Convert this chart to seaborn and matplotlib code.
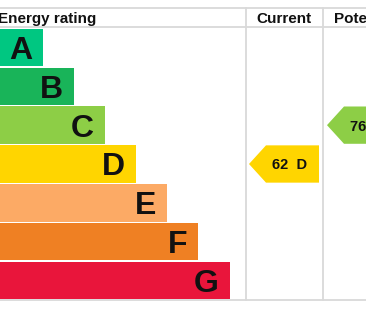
import numpy as np
import pandas as pd
import matplotlib
matplotlib.use("Agg")
import matplotlib.pyplot as plt
import seaborn as sns

# ---- data ----
bands = ["A", "B", "C", "D", "E", "F", "G"]
bar_lengths = [43, 74, 105, 136, 167, 198, 230]
band_colors = ["#00c781", "#19b459", "#8dce46", "#ffd500", "#fcaa65", "#ef8023", "#e9153b"]
header_labels = ["Energy rating", "Current", "Potential"]
current_score, current_band = 62, "D"
potential_score, potential_band = 76, "C"

sns.set_theme(style="white")
plt.rcParams["font.family"] = ["Liberation Sans", "DejaVu Sans"]

W, H = 366, 311
fig = plt.figure(figsize=(W / 100, H / 100), dpi=100)
ax = fig.add_axes([0, 0, 1, 1])

df = pd.DataFrame({"band": bands, "length": bar_lengths})
sns.barplot(data=df, x="length", y="band", hue="band", palette=band_colors,
            orient="h", width=0.96, legend=False, ax=ax, saturation=1,
            linewidth=0, edgecolor="none")

# pixel -> category-axis mapping
top_px, bot_px = 28, 300
step = (bot_px - top_px) / len(bands)
def ypx(p):
    return -0.5 + (p - top_px) / step

ax.set_xlim(0, W)
ax.set_ylim(ypx(H), ypx(0))
ax.axis("off")

# letters inside bars
for i, (b, L) in enumerate(zip(bands, bar_lengths)):
    ax.text(L - 11, i, b, ha="right", va="center_baseline", fontsize=23,
            fontweight="bold", color="#111111")

# grid lines
lc = "#d9d9d9"
for p in (8, 27.5, 300):
    ax.axhline(ypx(p), color=lc, lw=1.3, zorder=0)
for x in (245.5, 322.5):
    ax.plot([x, x], [ypx(8), ypx(300)], color=lc, lw=1.3, zorder=0)

# headers
hy = ypx(18)
ax.text(-2, hy, header_labels[0], ha="left", va="center_baseline", fontsize=11, fontweight="bold", color="#111111")
ax.text(284, hy, header_labels[1], ha="center", va="center_baseline", fontsize=11, fontweight="bold", color="#111111")
ax.text(334, hy, header_labels[2], ha="left", va="center_baseline", fontsize=11, fontweight="bold", color="#111111")

# arrows
def arrow(tip_x, band, score):
    i = bands.index(band)
    color = band_colors[i]
    t, b = i - 0.48, i + 0.48
    xs = [tip_x, tip_x + 17, tip_x + 70, tip_x + 70, tip_x + 17]
    ys = [i, t, t, b, b]
    ax.fill(xs, ys, color=color, lw=0, zorder=3)
    ax.text(tip_x + 41, i, f"{score}  {band}", ha="center", va="center_baseline",
            fontsize=10.5, fontweight="bold", color="#111111", zorder=4, clip_on=True)

arrow(249, current_band, current_score)
arrow(327, potential_band, potential_score)

fig.savefig("out.png", dpi=100)
